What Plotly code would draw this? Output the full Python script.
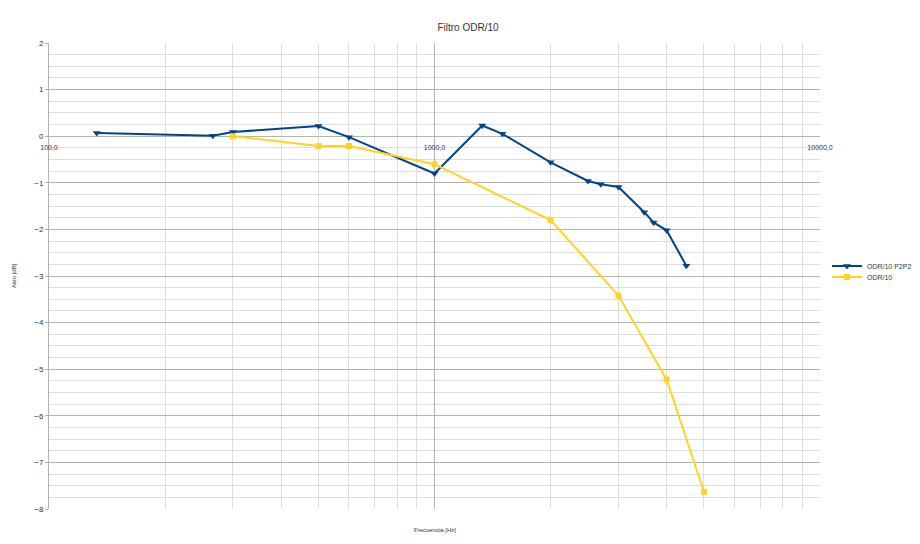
import plotly.graph_objects as go

title = "Filtro ODR/10"
x_title = "Frecuencia [Hz]"
y_title = "Aten [dB]"

freq_p2p2 = [133, 266, 300, 500, 600, 1000, 1330, 1500, 2000, 2500, 2700, 3000, 3500, 3700, 4000, 4500]
aten_p2p2 = [0.07, 0.01, 0.09, 0.22, -0.02, -0.80, 0.23, 0.05, -0.56, -0.96, -1.03, -1.09, -1.63, -1.85, -2.02, -2.78]

freq_odr = [300, 500, 600, 1000, 2000, 3000, 4000, 5000]
aten_odr = [0.0, -0.21, -0.21, -0.60, -1.80, -3.42, -5.22, -7.63]

x_tickvals = [100, 1000, 10000]
x_ticktext = ["100,0", "1000,0", "10000,0"]
x_minor = [m * d for d in (100, 1000) for m in range(2, 10)]

blue = "#004586"
yellow = "#ffd320"

fig = go.Figure()
fig.add_trace(go.Scatter(
    x=freq_p2p2, y=aten_p2p2, name="ODR/10 P2P2", mode="lines+markers",
    line=dict(color=blue, width=2),
    marker=dict(symbol="triangle-down", size=7, color=blue),
    legend="legend",
))
fig.add_trace(go.Scatter(
    x=freq_odr, y=aten_odr, name="ODR/10", mode="lines+markers",
    line=dict(color=yellow, width=2),
    marker=dict(symbol="square", size=6, color=yellow),
    legend="legend2",
))

leg_common = dict(x=1.009, xanchor="left", yanchor="middle",
                  font=dict(size=7, color="#333333"), bgcolor="rgba(0,0,0,0)",
                  itemwidth=30)

fig.update_layout(
    width=920, height=544,
    margin=dict(l=41, r=108, t=35, b=43, autoexpand=False),
    paper_bgcolor="white", plot_bgcolor="white",
    font=dict(family="Liberation Sans, Arial, sans-serif", color="#333333"),
    title=dict(text=title, x=0.5, xanchor="center", y=0.965, yanchor="middle",
               font=dict(size=10, color="#333333")),
    showlegend=True,
    legend=dict(y=0.5215, **leg_common),
    legend2=dict(y=0.498, **leg_common),
    xaxis=dict(
        type="log", range=[2, 4], automargin=False,
        tickmode="array", tickvals=x_tickvals, ticktext=x_ticktext,
        tickfont=dict(size=7, color="#333333"),
        showgrid=True, gridcolor="#b3b3b3", gridwidth=1,
        minor=dict(tickmode="array", tickvals=x_minor, showgrid=True,
                   gridcolor="#dddddd", gridwidth=1),
        anchor="free", position=0.8,
        showline=False, ticks="outside", ticklen=4, tickcolor="rgba(0,0,0,0)",
        zeroline=False,
        title=None,
    ),
    yaxis=dict(
        range=[-8, 2], dtick=1, tick0=0, automargin=False,
        tickfont=dict(size=8, color="#333333"),
        showgrid=True, gridcolor="#b3b3b3", gridwidth=1,
        minor=dict(dtick=0.25, showgrid=True, gridcolor="#dddddd", gridwidth=1),
        showline=True, linecolor="#b3b3b3", linewidth=1,
        ticks="outside", ticklen=3, tickcolor="#b3b3b3",
        zeroline=False,
        title=dict(text=y_title, font=dict(size=6, color="#333333"), standoff=17),
    ),
    annotations=[
        dict(text=x_title, xref="paper", yref="paper", x=0.5, y=-0.045,
             xanchor="center", yanchor="middle", showarrow=False,
             font=dict(size=6, color="#333333")),
    ],
)

fig.write_html("out.html")
